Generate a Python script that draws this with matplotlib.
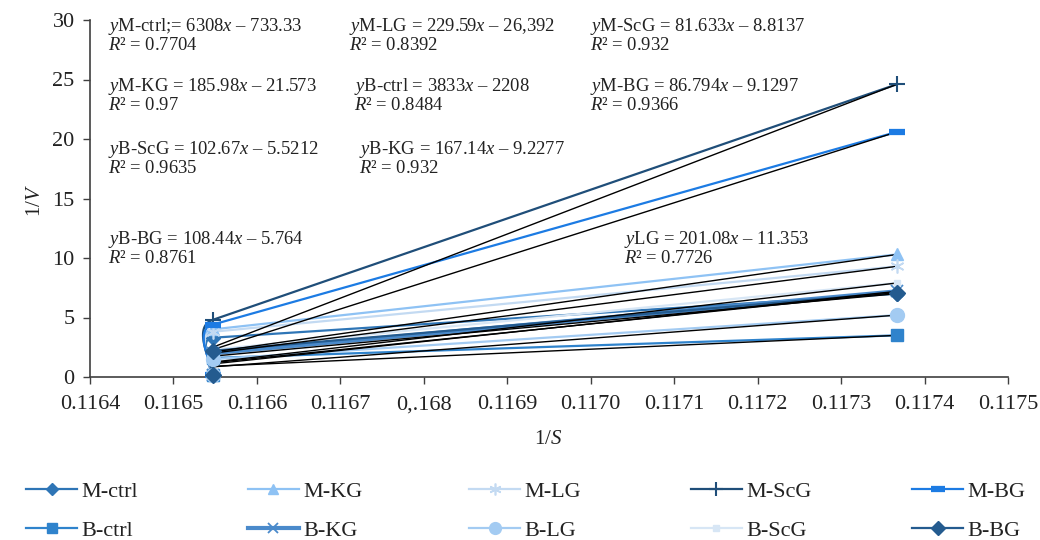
import numpy as np
import matplotlib
matplotlib.use("Agg")
import matplotlib.pyplot as plt
from matplotlib.lines import Line2D

plt.rcParams['font.family'] = ['Liberation Serif', 'DejaVu Serif']
plt.rcParams['mathtext.fontset'] = 'custom'
plt.rcParams['mathtext.rm'] = 'Liberation Serif'
plt.rcParams['mathtext.it'] = 'Liberation Serif:italic'

# ---------------- data ----------------
x_vals = [0.116547, 0.116547, 0.117367]
series_names = ["M-ctrl", "M-KG", "M-LG", "M-ScG", "M-BG",
                "B-ctrl", "B-KG", "B-LG", "B-ScG", "B-BG"]
m_ctrl = [0.2, 3.3, 7.0]
m_kg = [0.2, 4.0, 10.3]
m_lg = [0.2, 3.8, 9.3]
m_scg = [0.2, 4.8, 24.6]
m_bg = [0.2, 4.4, 20.6]
b_ctrl = [0.2, 1.6, 3.5]
b_kg = [0.2, 2.0, 7.2]
b_lg = [0.2, 1.5, 5.2]
b_scg = [0.2, 2.3, 7.9]
b_bg = [0.2, 2.2, 7.1]
series_values = [m_ctrl, m_kg, m_lg, m_scg, m_bg, b_ctrl, b_kg, b_lg, b_scg, b_bg]

x_ticks = [0.1164, 0.1165, 0.1166, 0.1167, 0.1168, 0.1169, 0.1170,
           0.1171, 0.1172, 0.1173, 0.1174, 0.1175]
x_tick_labels = ["0.1164", "0.1165", "0.1166", "0.1167", "0,.168", "0.1169",
                 "0.1170", "0.1171", "0.1172", "0.1173", "0.1174", "0.1175"]
y_ticks = [0, 5, 10, 15, 20, 25, 30]

equations = [
    ("$y$M-ctrl;= 6308$x$ – 733.33", "$R$² = 0.7704"),
    ("$y$M-LG = 229.59$x$ – 26,392", "$R$² = 0.8392"),
    ("$y$M-ScG = 81.633$x$ – 8.8137", "$R$² = 0.932"),
    ("$y$M-KG = 185.98$x$ – 21.573", "$R$² = 0.97"),
    ("$y$B-ctrl = 3833$x$ – 2208", "$R$² = 0.8484"),
    ("$y$M-BG = 86.794$x$ – 9.1297", "$R$² = 0.9366"),
    ("$y$B-ScG = 102.67$x$ – 5.5212", "$R$² = 0.9635"),
    ("$y$B-KG = 167.14$x$ – 9.2277", "$R$² = 0.932"),
    ("$y$B-BG = 108.44$x$ – 5.764", "$R$² = 0.8761"),
    ("$y$LG = 201.08$x$ – 11.353", "$R$² = 0.7726"),
]

# ---------------- styles ----------------
styles = {
    "M-ctrl": dict(color="#2E75B6", marker="D", ms=7, lw=1.6, mew=1),
    "M-KG": dict(color="#8EC2F4", marker="^", ms=9, lw=1.6, mew=1),
    "M-LG": dict(color="#C3DAF2", marker=(6, 2, 0), ms=10, lw=1.6, mew=1.2),
    "M-ScG": dict(color="#1F4E79", marker="+", ms=12, lw=1.6, mew=1.5),
    "M-BG": dict(color="#1C7BE3", marker="_", ms=12, lw=1.6, mew=4.5),
    "B-ctrl": dict(color="#2F83CC", marker="s", ms=9, lw=1.6, mew=1),
    "B-KG": dict(color="#4A8ACB", marker="x", ms=9, lw=3.0, mew=1.3),
    "B-LG": dict(color="#A3CBF2", marker="o", ms=10, lw=1.6, mew=1),
    "B-ScG": dict(color="#D7E6F5", marker="s", ms=5, lw=1.6, mew=1),
    "B-BG": dict(color="#245B8F", marker="D", ms=8, lw=1.6, mew=1),
}

W, H = 1040, 540
fig = plt.figure(figsize=(W / 100, H / 100), dpi=100)
ax = fig.add_axes([90 / W, 1 - 377 / H, (1008 - 90) / W, (377 - 20) / H])
ax.set_xlim(0.1164, 0.1175)
ax.set_ylim(0, 30)

def smooth_curve(xs, ys, frac=0.42, n=60):
    # low -> mid on the same x: curved; mid -> right: straight (smoothed-line look)
    p0, p1, p2 = ax.transData.transform(np.column_stack([xs, ys]))
    t = np.linspace(0, 1, n)[:, None]
    d = p2 - p1
    u = d / np.hypot(*d)
    L = np.hypot(*(p1 - p0))
    c1 = p0 + (p1 - p0) * 0.2
    c2 = p1 - u * L * frac
    seg1 = ((1 - t) ** 3) * p0 + 3 * ((1 - t) ** 2) * t * c1 + 3 * (1 - t) * t ** 2 * c2 + t ** 3 * p1
    seg2 = (1 - t) * p1 + t * p2
    out = np.vstack([seg1, seg2[1:]])
    data = ax.transData.inverted().transform(out)
    return data[:, 0], data[:, 1]

handles = []
for name, vals in zip(series_names, series_values):
    st = styles[name]
    sx, sy = smooth_curve(x_vals, vals)
    ax.plot(sx, sy, color=st["color"], lw=st["lw"], zorder=2, solid_capstyle='butt',
            clip_on=False)
    ax.plot(x_vals, vals, linestyle="none", marker=st["marker"], ms=st["ms"],
            mew=st["mew"], color=st["color"], mec=st["color"], zorder=4, clip_on=False)
    # linear trendline
    k, b = np.polyfit(x_vals, vals, 1)
    tx = np.array([min(x_vals), max(x_vals)])
    ax.plot(tx, k * tx + b, color="black", lw=1.0, zorder=3)
    handles.append(Line2D([], [], color=st["color"], lw=st["lw"], marker=st["marker"],
                          ms=st["ms"] * 0.85, mew=st["mew"], mec=st["color"]))

for s in ["top", "right"]:
    ax.spines[s].set_visible(False)
for s in ["left", "bottom"]:
    ax.spines[s].set_color("#404040")
    ax.spines[s].set_linewidth(1.2)

ax.set_xticks(x_ticks)
ax.set_xticklabels(x_tick_labels)
ax.set_yticks(y_ticks)
ax.tick_params(axis="both", direction="out", length=5, width=1, color="#404040",
               labelsize=16, labelcolor="#222222")
ax.tick_params(axis="x", pad=8)
ax.tick_params(axis="y", pad=6)

fig.text(548 / W, 1 - 440 / H, "1/$S$", ha="center", va="center", fontsize=15, color="#222222")
fig.text(36 / W, 1 - 200 / H, "1/$V$", ha="center", va="center", rotation=90,
         fontsize=15, color="#222222")

eq_pos = [(108, 16), (349, 16), (590, 16), (108, 76), (354, 76), (590, 76),
          (108, 139), (359, 139), (108, 229), (624, 229)]
for (l1, l2), (px, py) in zip(equations, eq_pos):
    fig.text(px / W, 1 - py / H, l1 + "\n" + l2, ha="left", va="top",
             fontsize=13.4, color="#222222", linespacing=1.0)

# legend: five columns, two rows
for c in range(5):
    hs = [handles[c], handles[c + 5]]
    ls = [series_names[c], series_names[c + 5]]
    fig.legend(hs, ls, loc="upper left",
               bbox_to_anchor=((26 + c * 221.5) / W, 1 - 481 / H),
               frameon=False, fontsize=16, handlelength=2.3, handletextpad=0.2,
               labelspacing=0.85, borderpad=0, borderaxespad=0, labelcolor="#222222")

fig.savefig("out.png", dpi=100)
